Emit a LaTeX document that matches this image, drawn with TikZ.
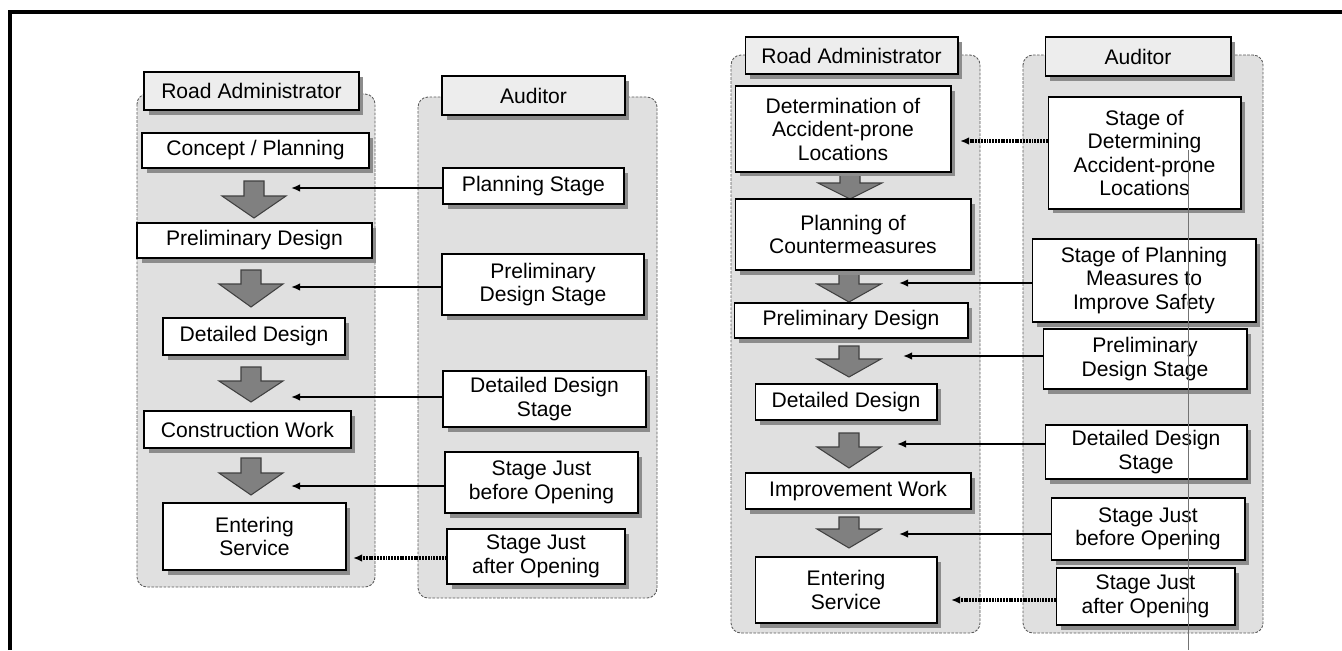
\documentclass[tikz,border=0pt]{standalone}
\usepackage{fontspec}
\setsansfont{Liberation Sans}
\usetikzlibrary{arrows.meta,shadows}
\tikzstyle{every picture}+=[font=\sffamily\fontsize{12}{13.4}\selectfont]
% block arrow between two steps: x, shaft top, head top, tip
\newcommand{\flowdown}[4]{\filldraw[flowarrow] ({#1-10},#2) -- ({#1+10},#2) -- ({#1+10},#3) -- ({#1+32},#3) -- (#1,#4) -- ({#1-32},#3) -- ({#1-10},#3) -- cycle;}

\begin{document}
\begin{tikzpicture}[x=0.02cm,y=-0.02cm,
    stagebox/.style={draw,fill=white,line width=0.6pt,align=center,inner sep=0pt,
      drop shadow={shadow xshift=0.09cm,shadow yshift=-0.09cm,fill=black!45,opacity=1}},
    headbox/.style={stagebox,fill=black!7},
    lane/.style={draw=black!65,fill=black!12,line width=0.5pt,dash pattern=on 1.5pt off 0.8pt,rounded corners=0.2cm},
    flowarrow/.style={fill=black!50,draw=black!75,line width=0.6pt},
    feed/.style={-{Latex[length=0.18cm,width=0.15cm]},line width=1pt},
    feedlate/.style={feed,dash pattern=on 1.1pt off 0.5pt,line width=2pt}]
    \useasboundingbox (0,0) rectangle (1342,650);
    \draw [line width=2.2pt] (10,650) -- (10,12) -- (1342,12);

    % lanes
    \draw [lane] (137,94) rectangle (375,587);
    \draw [lane] (418,97) rectangle (657,598);
    \draw [lane] (731,55) rectangle (980,633);
    \draw [lane] (1023,55) rectangle (1263,633);
    \node (ra1) [headbox,minimum width=4.30cm,minimum height=0.76cm] at (251.5,91) {Road Administrator};
    \node (au1) [headbox,minimum width=3.66cm,minimum height=0.78cm] at (533.5,95.5) {Auditor};
    \node (ra2) [headbox,minimum width=4.26cm,minimum height=0.74cm] at (851.5,55.5) {Road Administrator};
    \node (au2) [headbox,minimum width=3.72cm,minimum height=0.78cm] at (1138,56.5) {Auditor};

    % block arrows
    \flowdown{254}{181}{196}{218}
    \flowdown{251}{270}{284}{307}
    \flowdown{251}{367}{381}{402}
    \flowdown{251}{458}{473}{495}
    \flowdown{850}{165}{183}{199}
    \flowdown{849}{272}{284}{302}
    \flowdown{849}{346}{359}{377}
    \flowdown{849}{433}{447}{468}
    \flowdown{849}{517}{529}{548}

    % new road
    \node (cp) [stagebox,minimum width=4.54cm,minimum height=0.70cm] at (255.5,150.5) {Concept / Planning};
    \node (pd1) [stagebox,minimum width=4.70cm,minimum height=0.70cm] at (254.5,240.5) {Preliminary Design};
    \node (dd1) [stagebox,minimum width=3.64cm,minimum height=0.74cm] at (254,336.5) {Detailed Design};
    \node (cw) [stagebox,minimum width=4.14cm,minimum height=0.74cm] at (247.5,429.5) {Construction Work};
    \node (es1) [stagebox,minimum width=3.66cm,minimum height=1.34cm] at (254.5,536.5) {Entering\\Service};
    \node (ps1) [stagebox,minimum width=3.62cm,minimum height=0.72cm] at (533.5,186) {Planning Stage};
    \node (pds1) [stagebox,minimum width=4.04cm,minimum height=1.22cm] at (543,284.5) {Preliminary\\Design Stage};
    \node (dds1) [stagebox,minimum width=4.06cm,minimum height=1.12cm] at (544.5,399) {Detailed Design\\Stage};
    \node (bo1) [stagebox,minimum width=3.86cm,minimum height=1.22cm] at (541.5,482.5) {Stage Just\\before Opening};
    \node (ao1) [stagebox,minimum width=3.56cm,minimum height=1.10cm] at (536,556.5) {Stage Just\\after Opening};

    % existing road
    \node (det) [stagebox,minimum width=4.32cm,minimum height=1.72cm] at (843,129) {Determination of\\Accident-prone\\Locations};
    \node (poc) [stagebox,minimum width=4.72cm,minimum height=1.42cm] at (853,234.5) {Planning of\\Countermeasures};
    \node (pd2) [stagebox,minimum width=4.68cm,minimum height=0.70cm] at (851,320.5) {Preliminary Design};
    \node (dd2) [stagebox,minimum width=3.64cm,minimum height=0.72cm] at (846,402) {Detailed Design};
    \node (iw) [stagebox,minimum width=4.52cm,minimum height=0.72cm] at (858,491) {Improvement Work};
    \node (es2) [stagebox,minimum width=3.64cm,minimum height=1.32cm] at (846,590) {Entering\\Service};
    \node (sdet) [stagebox,minimum width=3.86cm,minimum height=2.24cm] at (1144.5,153) {Stage of\\Determining\\Accident-prone\\Locations};
    \node (spm) [stagebox,minimum width=4.48cm,minimum height=1.66cm] at (1144,280.5) {Stage of Planning\\Measures to\\Improve Safety};
    \node (pds2) [stagebox,minimum width=4.08cm,minimum height=1.20cm] at (1145,359) {Preliminary\\Design Stage};
    \node (dds2) [stagebox,minimum width=4.04cm,minimum height=1.08cm] at (1146,452) {Detailed Design\\Stage};
    \node (bo2) [stagebox,minimum width=3.88cm,minimum height=1.24cm] at (1148,529) {Stage Just\\before Opening};
    \node (ao2) [stagebox,minimum width=3.58cm,minimum height=1.14cm] at (1145.5,596.5) {Stage Just\\after Opening};

    % audit hand-overs
    \coordinate (t1) at (291,188);
    \coordinate (t2) at (291,287);
    \coordinate (t3) at (291,397);
    \coordinate (t4) at (291,486);
    \coordinate (t5) at (353,558);
    \coordinate (u0) at (960,141);
    \coordinate (u1) at (899,283);
    \coordinate (u2) at (903,356);
    \coordinate (u3) at (897,444);
    \coordinate (u4) at (899,534);
    \coordinate (u5) at (951,600);
    \path [feed] (ps1.west |- t1) edge (t1) (pds1.west |- t2) edge (t2) (dds1.west |- t3) edge (t3) (bo1.west |- t4) edge (t4);
    \path [feed] (spm.west |- u1) edge (u1) (pds2.west |- u2) edge (u2) (dds2.west |- u3) edge (u3) (bo2.west |- u4) edge (u4);
    \path [feedlate] (ao1.west |- t5) edge (t5) (sdet.west |- u0) edge (u0) (ao2.west |- u5) edge (u5);

    \draw [black!55,line width=0.4pt] (1188,150) -- (1188,650);
\end{tikzpicture}
\end{document}
